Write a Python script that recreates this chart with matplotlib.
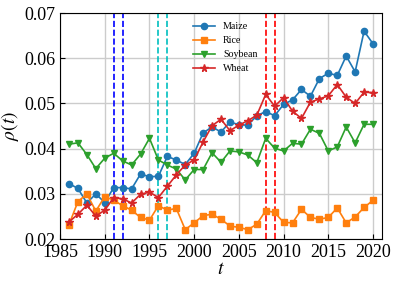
import numpy as np
import matplotlib
matplotlib.use('Agg')
import matplotlib.pyplot as plt

plt.rcParams['font.family'] = ['Liberation Serif', 'DejaVu Serif']
plt.rcParams['mathtext.fontset'] = 'stix'

years = np.arange(1986, 2021)

maize = [0.0323, 0.0312, 0.0280, 0.0300, 0.0281, 0.0314, 0.0314, 0.0311, 0.0344, 0.0338,
         0.0339, 0.0383, 0.0375, 0.0365, 0.0390, 0.0435, 0.0448, 0.0437, 0.0459, 0.0453,
         0.0452, 0.0473, 0.0482, 0.0473, 0.0498, 0.0508, 0.0531, 0.0516, 0.0555, 0.0567,
         0.0562, 0.0605, 0.0570, 0.0660, 0.0632]
rice = [0.0232, 0.0283, 0.0300, 0.0262, 0.0294, 0.0286, 0.0274, 0.0264, 0.0248, 0.0242,
        0.0274, 0.0264, 0.0268, 0.0221, 0.0236, 0.0252, 0.0255, 0.0244, 0.0229, 0.0226,
        0.0221, 0.0233, 0.0263, 0.0259, 0.0237, 0.0236, 0.0266, 0.0248, 0.0244, 0.0248,
        0.0269, 0.0236, 0.0249, 0.0270, 0.0286]
soybean = [0.0410, 0.0413, 0.0387, 0.0356, 0.0379, 0.0390, 0.0373, 0.0364, 0.0388, 0.0423,
           0.0375, 0.0364, 0.0355, 0.0331, 0.0354, 0.0354, 0.0391, 0.0370, 0.0395, 0.0393,
           0.0386, 0.0369, 0.0423, 0.0401, 0.0395, 0.0412, 0.0410, 0.0443, 0.0434, 0.0395,
           0.0404, 0.0448, 0.0413, 0.0454, 0.0454]
wheat = [0.0238, 0.0255, 0.0275, 0.0251, 0.0264, 0.0292, 0.0289, 0.0280, 0.0299, 0.0304,
         0.0292, 0.0317, 0.0342, 0.0364, 0.0375, 0.0415, 0.0451, 0.0465, 0.0440, 0.0452,
         0.0462, 0.0474, 0.0520, 0.0494, 0.0513, 0.0483, 0.0467, 0.0503, 0.0510, 0.0517,
         0.0542, 0.0514, 0.0500, 0.0525, 0.0524]

# marked periods (dashed vertical lines)
vlines = [(1991, 'b'), (1992, 'b'), (1996, 'c'), (1997, 'c'), (2008, 'r'), (2009, 'r')]

fig = plt.figure(figsize=(3.95, 2.84), dpi=100)
ax = fig.add_axes([0.152, 0.158, 0.815, 0.796])

for x, c in vlines:
    ax.axvline(x, color=c, linestyle='--', linewidth=1.2, zorder=1)

ax.plot(years, maize, marker='o', markersize=4.5, linewidth=1.2, color='tab:blue', label='Maize')
ax.plot(years, rice, marker='s', markersize=4.5, linewidth=1.2, color='tab:orange', label='Rice')
ax.plot(years, soybean, marker='v', markersize=5, linewidth=1.2, color='tab:green', label='Soybean')
ax.plot(years, wheat, marker='*', markersize=5.5, linewidth=1.2, color='tab:red', label='Wheat')

ax.set_xlim(1985, 2021)
ax.set_ylim(0.02, 0.07)
ax.set_xticks(np.arange(1985, 2021, 5))
ax.grid(True, color='#cccccc', linewidth=1.0, zorder=0)
ax.set_axisbelow(True)
ax.tick_params(direction='in', labelsize=13)
ax.set_xlabel(r'$t$', fontsize=14, labelpad=0)
ax.set_ylabel(r'$\rho(t)$', fontsize=14, labelpad=2)

ax.legend(loc='upper left', bbox_to_anchor=(0.385, 1.0), frameon=False, fontsize=7.2,
          handlelength=2.2)

fig.savefig('out.png', dpi=100)
